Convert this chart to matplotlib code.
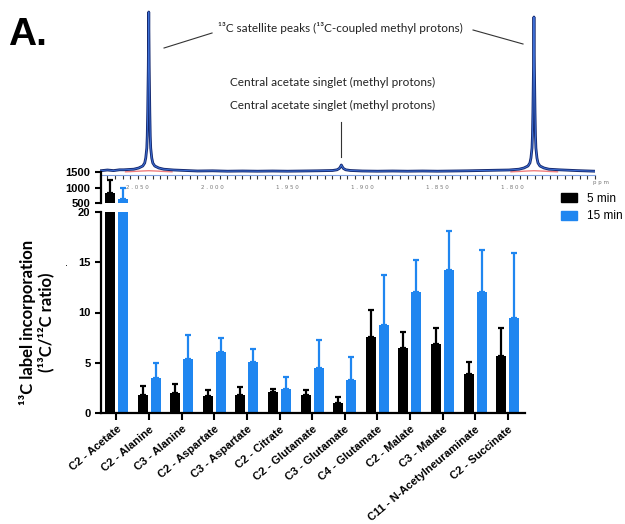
import matplotlib
matplotlib.use('Agg')
import matplotlib.pyplot as plt
from matplotlib.patches import Patch
from matplotlib.ticker import MultipleLocator

# bar chart data (13C/12C ratio)
categories = ['C2 - Acetate', 'C2 - Alanine', 'C3 - Alanine', 'C2 - Aspartate',
              'C3 - Aspartate', 'C2 - Citrate', 'C2 - Glutamate', 'C3 - Glutamate',
              'C4 - Glutamate', 'C2 - Malate', 'C3 - Malate',
              'C11 - N-Acetylneuraminate', 'C2 - Succinate']
min5 = [835, 1.80, 1.95, 1.72, 1.82, 2.12, 1.76, 1.03, 7.58, 6.49, 6.82, 3.84, 5.66]
min5_err = [420, 0.89, 0.93, 0.56, 0.78, 0.23, 0.54, 0.53, 2.62, 1.59, 1.68, 1.19, 2.81]
min15 = [642, 3.50, 5.40, 6.09, 5.03, 2.42, 4.50, 3.28, 8.74, 12.05, 14.2, 12.0, 9.47]
min15_err = [355, 1.50, 2.40, 1.39, 1.36, 1.18, 2.75, 2.32, 4.96, 3.15, 3.90, 4.20, 6.43]

# NMR spectrum (ppm, intensity)
spec_ppm = [2.075, 2.070, 2.066, 2.062, 2.0592, 2.0525, 2.0492, 2.0465, 2.0452, 2.0445,
            2.0438, 2.0435, 2.0432, 2.0428, 2.0425, 2.0422, 2.0418, 2.0415, 2.0412,
            2.0405, 2.0398, 2.0385, 2.0358, 2.0325, 2.0258, 2.018, 2.010, 2.000, 1.990,
            1.980, 1.970, 1.960, 1.950, 1.940, 1.930, 1.920, 1.917, 1.9155, 1.9148,
            1.9141, 1.9134, 1.9127, 1.9112, 1.908, 1.900, 1.890, 1.880, 1.870, 1.860,
            1.850, 1.840, 1.830, 1.820, 1.810, 1.8024, 1.7957, 1.7924, 1.7897, 1.7884,
            1.7877, 1.7870, 1.7867, 1.7864, 1.7860, 1.7857, 1.7854, 1.7850, 1.7847,
            1.7844, 1.7837, 1.7830, 1.7817, 1.7790, 1.7757, 1.7690, 1.763, 1.757,
            1.751, 1.745]
spec_int = [1.2, 2.0, 1.4, 2.2, 2.2, 2.8, 4.0, 6.0, 9.0, 14, 24, 36, 60, 105, 160, 105,
            60, 36, 24, 14, 9.0, 6.0, 4.0, 2.8, 2.0, 1.5, 1.0, 1.2, 0.8, 1.0, 0.8, 1.0,
            0.8, 1.0, 1.2, 1.5, 2.2, 3.5, 5.0, 7.0, 5.0, 3.5, 2.2, 1.5, 1.0, 0.8, 1.0,
            0.8, 1.0, 0.8, 1.0, 1.2, 1.5, 1.8, 2.0, 2.8, 4.0, 6.0, 9.0, 14, 24, 36, 60,
            105, 155, 105, 60, 36, 24, 14, 9.0, 6.0, 4.0, 2.8, 2.2, 1.8, 1.4, 1.1, 0.8]
fit_ppm_left = [2.058, 2.052, 2.047, 2.0425, 2.038, 2.033, 2.027]
fit_int_left = [0.2, 0.6, 1.0, 1.3, 1.0, 0.6, 0.2]
fit_ppm_right = [1.801, 1.795, 1.790, 1.7857, 1.781, 1.776, 1.770]
fit_int_right = [0.2, 0.6, 1.0, 1.3, 1.0, 0.6, 0.2]
ppm_ticks = [2.05, 2.00, 1.95, 1.90, 1.85, 1.80]
ppm_labels = ['2 . 0 5 0', '2 . 0 0 0', '1 . 9 5 0', '1 . 9 0 0', '1 . 8 5 0', '1 . 8 0 0']

W, H = 625, 524
fig = plt.figure(figsize=(W / 100, H / 100), dpi=100)

def box(x0, y0, x1, y1):
    # pixel box -> figure fraction
    return [x0 / W, 1 - y1 / H, (x1 - x0) / W, (y1 - y0) / H]

black = '#000000'
blue = '#1f86f0'
x = list(range(len(categories)))
off = 0.2
bw = 0.31

sp = fig.add_axes(box(100, 8, 595, 175))
ax_top = fig.add_axes(box(101, 172, 525, 203))
ax = fig.add_axes(box(101, 212, 525, 413))

for a in (ax_top, ax):
    xb = [i - off for i in x]
    xl = [i + off for i in x]
    a.bar(xb, min5, bw, color=black, zorder=2)
    a.bar(xl, min15, bw, color=blue, zorder=2)
    a.errorbar(xb, min5, yerr=[[0] * len(x), min5_err], fmt='none', ecolor=black,
               elinewidth=1.6, capsize=2, capthick=1.6, zorder=3)
    a.errorbar(xl, min15, yerr=[[0] * len(x), min15_err], fmt='none', ecolor=blue,
               elinewidth=1.6, capsize=2, capthick=1.6, zorder=3)
    a.set_xlim(-0.475, 12.53)
    a.spines['top'].set_visible(False)
    a.spines['right'].set_visible(False)
    for s in a.spines.values():
        s.set_linewidth(1.6)
    a.tick_params(width=1.5, length=4, labelsize=8)
    a.set_facecolor('none')

ax_top.set_ylim(500, 1500)
ax_top.set_yticks([500, 1000, 1500])
ax_top.spines['bottom'].set_visible(False)
ax_top.set_xticks([])
ax_top.set_zorder(3)
for t in ax_top.get_yticklabels():
    t.set_fontweight('bold')
    t.set_family('Liberation Sans')

ax.set_ylim(0, 20)
ax.set_yticks([0, 5, 10, 15, 20])
ax.set_xticks(x)
ax.set_xticklabels(categories, rotation=40, ha='right', rotation_mode='anchor',
                   fontsize=8, fontweight='bold', family='Liberation Sans')
for t in ax.get_yticklabels():
    t.set_fontweight('bold')
    t.set_family('Liberation Sans')
ax.tick_params(axis='x', length=5, pad=3)

# spectrum overlay
sp.plot(fit_ppm_left, fit_int_left, color='#f08080', lw=1)
sp.plot(fit_ppm_right, fit_int_right, color='#f08080', lw=1)
sp.plot(spec_ppm, spec_int, color='#14286e', lw=2.0)
sp.plot(spec_ppm, spec_int, color='#3d6fd6', lw=0.7)
sp.set_xlim(2.075, 1.745)
sp.set_ylim(-3, 164)
sp.set_facecolor('none')
for k in ('top', 'right', 'left'):
    sp.spines[k].set_visible(False)
sp.spines['bottom'].set_color('#7fa0e0')
sp.set_yticks([])
sp.set_xticks(ppm_ticks)
sp.set_xticklabels(ppm_labels)
sp.xaxis.set_minor_locator(MultipleLocator(0.005))
sp.tick_params(axis='x', which='both', length=3, width=0.8, color='#333333',
               labelsize=4, labelcolor='#777777', pad=4)
sp.text(1.7465, -8, 'p p m', fontsize=4, color='#777777', ha='left', va='top')

# annotations
afont = dict(family='Lato', fontsize=8.5, color='#222222', ha='center', va='center')
sp.text(1.915, 144, '¹³C satellite peaks (¹³C-coupled methyl protons)', **afont)
sp.text(1.920, 90, 'Central acetate singlet (methyl protons)', **afont)
sp.text(1.920, 67, 'Central acetate singlet (methyl protons)', **afont)
sp.plot([2.0323, 2.0003], [124, 139], color='#333333', lw=0.8)
sp.plot([1.8263, 1.793], [142, 128], color='#333333', lw=0.8)
sp.plot([1.9141, 1.9141], [15, 50], color='#333333', lw=0.8)

# legend
handles = [Patch(color=black, label='5 min'), Patch(color=blue, label='15 min')]
fig.legend(handles=handles, loc='upper left', bbox_to_anchor=(555 / W, 1 - 187 / H),
           frameon=False, handlelength=1.4, handleheight=0.8,
           handletextpad=0.8, labelspacing=0.45, borderpad=0,
           prop={'family': 'Liberation Sans', 'size': 8.5})

fig.text(37 / W, 1 - 322 / H, '¹³C label incorporation\n(¹³C/¹²C ratio)', rotation=90,
         ha='center', va='center', multialignment='center', fontsize=12,
         fontweight='bold', family='Lato', linespacing=1.1)
fig.text(67 / W, 1 - 266 / H, '.', fontsize=7, ha='center')
fig.text(8 / W, 1 - 45 / H, 'A.', fontsize=28, fontweight='bold',
         family='Liberation Sans', va='baseline')

fig.savefig('out.png', dpi=100)
